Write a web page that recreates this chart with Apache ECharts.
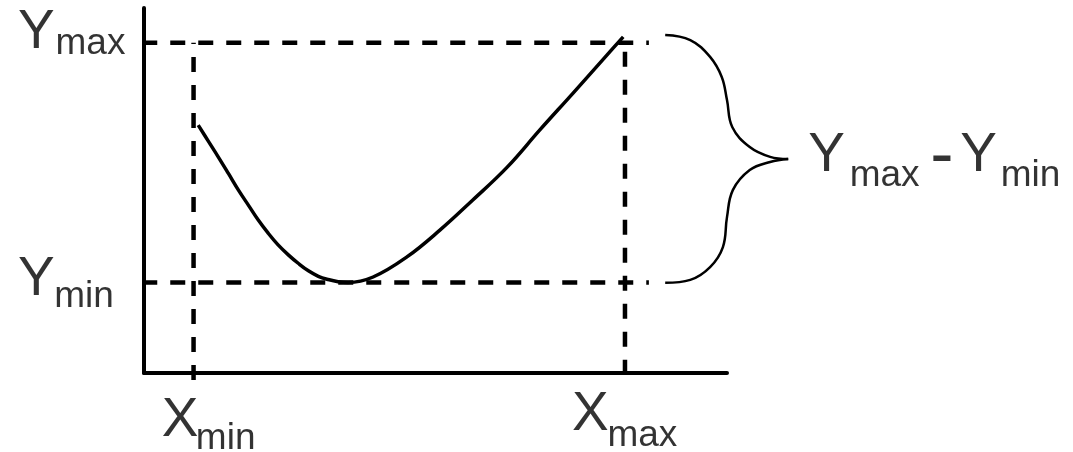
<!DOCTYPE html>
<html>
<head>
<meta charset="utf-8">
<script src="https://cdn.jsdelivr.net/npm/echarts@6/dist/echarts.min.js"></script>
<style>
  html, body { margin: 0; padding: 0; background: #fff; }
  #chart { width: 1073px; height: 452px; }
</style>
</head>
<body>
<div id="chart"></div>
<script>
// curve, in axis units (0..100 both ways)
const curveX = [9.3, 11.0, 12.7, 14.5, 16.2, 17.9, 19.6, 21.3, 23.0, 24.8, 26.5, 28.2, 29.9, 31.6, 33.3, 35.0, 39.3, 45.1, 50.8, 56.4, 62.3, 67.9, 73.6, 79.4, 82.2];
const curveY = [67.9, 63.6, 59.3, 54.6, 50.1, 46.0, 41.9, 38.3, 35.1, 32.3, 30.0, 28.0, 26.5, 25.6, 25.0, 24.8, 26.3, 31.8, 39.2, 47.4, 56.4, 66.6, 76.7, 87.1, 92.1];

// guide values
const yMax = 90.5;
const yMin = 24.8;
const xMin = 8.5;
const xMax = 82.5;
const guideStart = -0.3;  // horizontal guides begin at the axis
const guideEnd = 86.6;    // and stop here
const guideBottomMin = -1.9;
const guideBottomMax = -0.5;

// curly brace, two halves meeting at the point
const braceTopX = [89.4, 93.7, 97.1, 99.1, 100.0, 100.9, 103.9, 107.4, 110.5];
const braceTopY = [92.6, 91.2, 86.6, 81.1, 74.8, 67.4, 61.9, 59.2, 58.6];
const braceBotX = [110.5, 107.4, 103.9, 101.0, 100.0, 99.3, 97.1, 93.7, 89.4];
const braceBotY = [58.6, 57.8, 55.6, 50.1, 42.7, 34.5, 29.0, 25.5, 24.7];

// label texts: main letter + subscript
const letters = ['Y', 'Y', 'X', 'X'];
const subs = ['max', 'min', 'min', 'max'];

const zip = (xs, ys) => xs.map((x, i) => [x, ys[i]]);
const font = 'Liberation Sans, Arial, sans-serif';

function dashed(points) {
    return {
        type: 'line',
        data: points,
        symbol: 'none',
        clip: false,
        silent: true,
        lineStyle: { color: '#000', width: 4.5, type: [15, 13] }
    };
}

// one piece of text hung off a data point
function piece(value, text, size, dx, dy) {
    return {
        value: value,
        label: {
            show: true,
            formatter: text,
            position: [dx, dy],
            align: 'left',
            verticalAlign: 'middle',
            fontSize: size,
            fontFamily: font,
            color: '#000'
        }
    };
}

const tip = [braceTopX[braceTopX.length - 1], braceTopY[braceTopY.length - 1]];
const big = 55, small = 37;

const labelData = [
    piece([0, yMax], letters[0], big, -126, -9.5),
    piece([0, yMax], subs[0], small, -88.5, 1),
    piece([0, yMin], letters[1], big, -126, -2.5),
    piece([0, yMin], subs[1], small, -89.8, 14),
    piece([xMin, 0], letters[2], big, -31.8, 48),
    piece([xMin, 0], subs[2], small, 2.3, 65.5),
    piece([xMax, 0], letters[3], big, -53, 42),
    piece([xMax, 0], subs[3], small, -17.5, 62.5),
    // Ymax - Ymin beside the brace
    piece(tip, 'Y', big, 20, -3),
    piece(tip, 'max', small, 61.5, 16.5),
    piece(tip, '-', 70, 142, -1.2),
    piece(tip, 'Y', big, 172, -3),
    piece(tip, 'min', small, 212.5, 16.5)
];

const hidden = { show: false };

const chart = echarts.init(document.getElementById('chart'));
chart.setOption({
    animation: false,
    grid: [
        { left: 144, right: 346, top: 8, bottom: 79 },
        // overlay with the same scale, reaching the right edge
        { left: 144, right: 0, top: 8, bottom: 79 }
    ],
    xAxis: [
        {
            type: 'value', min: 0, max: 100,
            axisLine: { onZero: false, lineStyle: { color: '#000', width: 4 } },
            axisTick: hidden, axisLabel: hidden, splitLine: hidden
        },
        { type: 'value', gridIndex: 1, min: 0, max: 159.35, show: false }
    ],
    yAxis: [
        {
            type: 'value', min: 0, max: 100,
            axisLine: { show: true, onZero: false, lineStyle: { color: '#000', width: 4 } },
            axisTick: hidden, axisLabel: hidden, splitLine: hidden
        },
        { type: 'value', gridIndex: 1, min: 0, max: 100, show: false }
    ],
    series: [
        dashed([[guideStart, yMax], [guideEnd, yMax]]),
        dashed([[guideStart, yMin], [guideEnd, yMin]]),
        dashed([[xMin, guideBottomMin], [xMin, yMax]]),
        dashed([[xMax, guideBottomMax], [xMax, yMax]]),
        {
            type: 'line',
            data: zip(curveX, curveY),
            smooth: 0.4,
            symbol: 'none',
            clip: false,
            lineStyle: { color: '#000', width: 3.5 }
        },
        {
            type: 'line',
            xAxisIndex: 1, yAxisIndex: 1,
            data: zip(braceTopX, braceTopY),
            smooth: 0.4,
            symbol: 'none',
            clip: false,
            lineStyle: { color: '#000', width: 2.5 }
        },
        {
            type: 'line',
            xAxisIndex: 1, yAxisIndex: 1,
            data: zip(braceBotX, braceBotY),
            smooth: 0.4,
            symbol: 'none',
            clip: false,
            lineStyle: { color: '#000', width: 2.5 }
        },
        {
            type: 'scatter',
            xAxisIndex: 1, yAxisIndex: 1,
            symbolSize: 0,
            clip: false,
            silent: true,
            data: labelData
        }
    ]
});
</script>
</body>
</html>
